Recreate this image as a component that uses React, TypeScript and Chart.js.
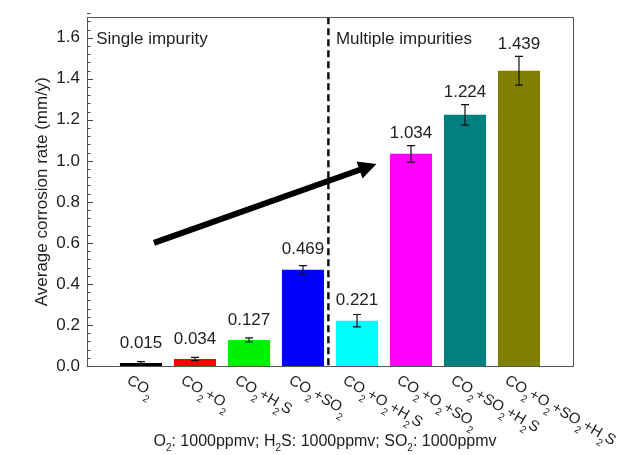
import React, { useEffect, useRef } from "react";
import { Chart, registerables } from "chart.js";

Chart.register(...registerables);

const categories = ["CO2", "CO2+O2", "CO2+H2S", "CO2+SO2", "CO2+O2+H2S", "CO2+O2+SO2", "CO2+SO2+H2S", "CO2+O2+SO2+H2S"];
const rates = [0.015, 0.034, 0.127, 0.469, 0.221, 1.034, 1.224, 1.439];
const errors = [0.006, 0.008, 0.01, 0.02, 0.03, 0.04, 0.05, 0.07];
const colors = ["#000000", "#ff0000", "#00f000", "#0000ff", "#00ffff", "#ff00ff", "#008080", "#808000"];
const yTickStep = 0.2;
const yMinorStep = 0.04;
const yMax = 1.7;
const groupLabels = ["Single impurity", "Multiple impurities"];
const groupLabelX = [-0.83, 3.61];
const dividerX = 3.47;
const arrowFrom = { x: 0.24, y: 0.6 };
const arrowTo = { x: 4.36, y: 0.985 };
const yTitle = "Average corrosion rate (mm/y)";
const note = "O2: 1000ppmv; H2S: 1000ppmv; SO2: 1000ppmv";

const FONT = "'Liberation Sans', Arial, Helvetica, sans-serif";
const INK = "#1e1e1e";

function tokens(s: string) {
  const out: { t: string; sub: boolean }[] = [];
  for (let i = 0; i < s.length; i++) {
    const c = s[i];
    const sub = /[0-9]/.test(c) && i > 0 && /[A-Z]/.test(s[i - 1]);
    const last = out[out.length - 1];
    if (last && last.sub === sub) last.t += c;
    else out.push({ t: c, sub });
  }
  return out;
}

function drawRich(ctx: CanvasRenderingContext2D, s: string, x: number, y: number, size: number, subSize: number, subOff: number) {
  let cx = x;
  for (const tk of tokens(s)) {
    ctx.font = `${tk.sub ? subSize : size}px ${FONT}`;
    ctx.fillText(tk.t, cx, tk.sub ? y + subOff : y);
    cx += ctx.measureText(tk.t).width;
  }
  return cx - x;
}

function richWidth(ctx: CanvasRenderingContext2D, s: string, size: number, subSize: number) {
  let w = 0;
  for (const tk of tokens(s)) {
    ctx.font = `${tk.sub ? subSize : size}px ${FONT}`;
    w += ctx.measureText(tk.t).width;
  }
  return w;
}

const overlay = {
  id: "overlay",
  afterDatasetsDraw(chart: any) {
    const ctx: CanvasRenderingContext2D = chart.ctx;
    const xs = chart.scales.x;
    const ys = chart.scales.y;
    const area = chart.chartArea;
    ctx.save();

    // error bars
    ctx.strokeStyle = "#111";
    ctx.lineWidth = 1.2;
    rates.forEach((v, i) => {
      const px = xs.getPixelForValue(i);
      const top = ys.getPixelForValue(v + errors[i]);
      const bot = ys.getPixelForValue(Math.max(0, v - errors[i]));
      ctx.beginPath();
      ctx.moveTo(px, top);
      ctx.lineTo(px, bot);
      ctx.moveTo(px - 4, top);
      ctx.lineTo(px + 4, top);
      ctx.moveTo(px - 4, bot);
      ctx.lineTo(px + 4, bot);
      ctx.stroke();
    });

    // value labels
    ctx.fillStyle = INK;
    ctx.font = `17px ${FONT}`;
    ctx.textAlign = "center";
    ctx.textBaseline = "middle";
    rates.forEach((v, i) => {
      const px = xs.getPixelForValue(i);
      const barTop = ys.getPixelForValue(v);
      const errTop = ys.getPixelForValue(v + errors[i]);
      const y = Math.min(barTop - 20, errTop - 12);
      ctx.fillText(v.toFixed(3), px, y);
    });

    // divider
    ctx.strokeStyle = "#111";
    ctx.lineWidth = 2.5;
    ctx.setLineDash([7, 4]);
    const dx = xs.getPixelForValue(dividerX);
    ctx.beginPath();
    ctx.moveTo(dx, area.top);
    ctx.lineTo(dx, area.bottom);
    ctx.stroke();
    ctx.setLineDash([]);

    // arrow
    const ax0 = xs.getPixelForValue(arrowFrom.x);
    const ay0 = ys.getPixelForValue(arrowFrom.y);
    const ax1 = xs.getPixelForValue(arrowTo.x);
    const ay1 = ys.getPixelForValue(arrowTo.y);
    const ang = Math.atan2(ay1 - ay0, ax1 - ax0);
    const headLen = 18;
    const headHalf = 9;
    const bx = ax1 - headLen * Math.cos(ang);
    const by = ay1 - headLen * Math.sin(ang);
    ctx.strokeStyle = "#000";
    ctx.fillStyle = "#000";
    ctx.lineWidth = 6;
    ctx.beginPath();
    ctx.moveTo(ax0, ay0);
    ctx.lineTo(bx + 2 * Math.cos(ang), by + 2 * Math.sin(ang));
    ctx.stroke();
    ctx.beginPath();
    ctx.moveTo(ax1, ay1);
    ctx.lineTo(bx + headHalf * Math.sin(ang), by - headHalf * Math.cos(ang));
    ctx.lineTo(bx - headHalf * Math.sin(ang), by + headHalf * Math.cos(ang));
    ctx.closePath();
    ctx.fill();

    // group labels
    ctx.fillStyle = INK;
    ctx.font = `17px ${FONT}`;
    ctx.textAlign = "left";
    ctx.textBaseline = "alphabetic";
    groupLabels.forEach((g, i) => {
      ctx.fillText(g, xs.getPixelForValue(groupLabelX[i]), area.top + 27);
    });

    // frame
    ctx.strokeStyle = "#555";
    ctx.lineWidth = 1;
    ctx.strokeRect(Math.round(area.left) + 0.5, Math.round(area.top) + 0.5, Math.round(area.right - area.left), Math.round(area.bottom - area.top));

    // y ticks (inward)
    ctx.strokeStyle = "#444";
    const nMinor = Math.round(yMax / yMinorStep);
    for (let k = 0; k <= nMinor; k++) {
      const v = k * yMinorStep;
      const py = Math.round(ys.getPixelForValue(v)) + 0.5;
      const isMajor = Math.abs(v / yTickStep - Math.round(v / yTickStep)) < 1e-6;
      ctx.beginPath();
      ctx.moveTo(area.left, py);
      ctx.lineTo(area.left + (isMajor ? 6 : 3.5), py);
      ctx.stroke();
    }

    // y title
    ctx.save();
    ctx.translate(42, (area.top + area.bottom) / 2);
    ctx.rotate(-Math.PI / 2);
    ctx.fillStyle = INK;
    ctx.font = `17px ${FONT}`;
    ctx.textAlign = "center";
    ctx.textBaseline = "middle";
    ctx.fillText(yTitle, 0, 0);
    ctx.restore();

    // x category labels, rotated clockwise
    ctx.fillStyle = INK;
    ctx.textAlign = "left";
    ctx.textBaseline = "alphabetic";
    categories.forEach((c, i) => {
      const px = xs.getPixelForValue(i);
      ctx.save();
      ctx.translate(px - 15, area.bottom + 17);
      ctx.rotate((30 * Math.PI) / 180);
      drawRich(ctx, c, 0, 0, 15, 10, 7);
      ctx.restore();
    });

    // note
    const nw = richWidth(ctx, note, 16, 10);
    const ncx = (xs.getPixelForValue(-1) + xs.getPixelForValue(8)) / 2 - 5;
    drawRich(ctx, note, ncx - nw / 2, 446, 16, 10, 5);

    ctx.restore();
  },
};

export default function App() {
  const ref = useRef<HTMLCanvasElement | null>(null);
  useEffect(() => {
    document.body.style.margin = "0";
    const canvas = ref.current!;
    const chart = new Chart(canvas, {
      type: "bar",
      data: {
        datasets: [
          {
            data: rates.map((v, i) => ({ x: i, y: v })),
            backgroundColor: colors,
            borderWidth: 0,
            barPercentage: 0.78,
            categoryPercentage: 1,
          },
        ],
      },
      options: {
        responsive: false,
        animation: false,
        devicePixelRatio: 1,
        layout: { padding: { top: 9, right: 60, left: 0, bottom: 0 } },
        plugins: { legend: { display: false }, tooltip: { enabled: false } },
        scales: {
          x: {
            type: "linear",
            min: -1,
            max: 8,
            offset: false,
            ticks: { display: false },
            grid: { display: false },
            border: { display: false },
            afterFit: (s: any) => {
              s.height = 89;
            },
          },
          y: {
            min: 0,
            max: yMax,
            ticks: {
              stepSize: yTickStep,
              includeBounds: false,
              color: INK,
              font: { size: 17, family: FONT },
              padding: 7,
              callback: (v: any) => Number(v).toFixed(1),
            },
            grid: { display: false, drawTicks: false },
            border: { display: false },
            afterFit: (s: any) => {
              s.width = 87;
            },
          },
        },
      },
      plugins: [overlay],
    } as any);
    return () => chart.destroy();
  }, []);
  return (
    <div style={{ position: "fixed", left: 0, top: 0, width: 633, height: 455, background: "#fff" }}>
      <canvas ref={ref} width={633} height={455} />
    </div>
  );
}
